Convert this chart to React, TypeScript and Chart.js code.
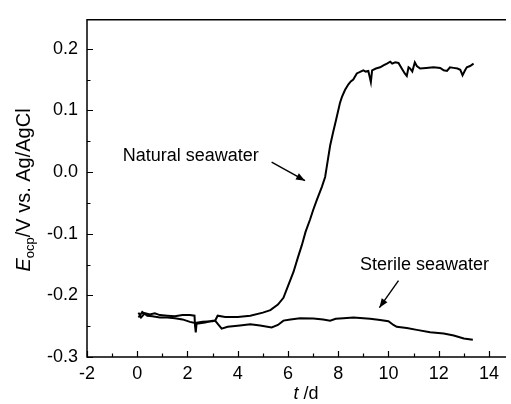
import React, { useEffect, useRef } from "react";
import { Chart, registerables } from "chart.js";

Chart.register(...registerables);

// ---- data ----
const naturalT = [
  0.05, 0.15, 0.3, 0.5, 0.7, 0.9, 1.2, 1.5, 1.8, 2.1, 2.28, 2.3, 2.33, 2.36, 2.7, 3.0, 3.1, 3.2, 3.5, 4.0,
  4.5, 5.0, 5.3, 5.6, 5.82, 6.0, 6.22, 6.4, 6.55, 6.7, 6.88, 7.0, 7.15, 7.35, 7.48, 7.55, 7.68, 7.8, 7.9, 8.07,
  8.15, 8.27, 8.4, 8.5, 8.6, 8.74, 8.85, 9.0, 9.1, 9.2, 9.25, 9.3, 9.35, 9.5, 9.67, 9.8, 9.94, 10.07, 10.15, 10.27,
  10.4, 10.53, 10.65, 10.73, 10.8, 10.86, 10.95, 11.05, 11.13, 11.26, 11.5, 11.8, 12.06, 12.2, 12.33, 12.45, 12.59,
  12.75, 12.86, 12.95, 13.05, 13.12, 13.25, 13.39,
];
const naturalE = [
  -0.228, -0.236, -0.229, -0.231, -0.229, -0.232, -0.233, -0.234, -0.232, -0.232, -0.233, -0.249, -0.26, -0.246,
  -0.244, -0.241, -0.241, -0.233, -0.235, -0.235, -0.233, -0.228, -0.224, -0.215, -0.204, -0.185, -0.162, -0.138,
  -0.119, -0.097, -0.077, -0.062, -0.045, -0.024, -0.008, 0.01, 0.043, 0.065, 0.082, 0.112, 0.122, 0.133, 0.142,
  0.147, 0.15, 0.16, 0.162, 0.165, 0.163, 0.164, 0.155, 0.146, 0.165, 0.168, 0.17, 0.173, 0.176, 0.179, 0.176,
  0.178, 0.177, 0.168, 0.16, 0.156, 0.17, 0.168, 0.163, 0.178, 0.172, 0.168, 0.169, 0.17, 0.169, 0.165, 0.164,
  0.17, 0.169, 0.168, 0.166, 0.157, 0.165, 0.17, 0.172, 0.176,
];
const sterileT = [
  0.05, 0.2, 0.4, 0.6, 0.9, 1.2, 1.5, 1.8, 2.1, 2.3, 2.6, 3.0, 3.1, 3.36, 3.6, 4.09, 4.5, 4.89, 5.35, 5.6, 5.82,
  6.1, 6.48, 7.01, 7.4, 7.68, 7.9, 8.21, 8.61, 9.0, 9.27, 9.67, 10.0, 10.2, 10.33, 10.73, 11.13, 11.66, 12.2, 12.6,
  13.0, 13.36,
];
const sterileE = [
  -0.236, -0.227, -0.233, -0.234, -0.236, -0.236, -0.237, -0.239, -0.243, -0.245, -0.243, -0.242, -0.241, -0.254,
  -0.251, -0.249, -0.247, -0.249, -0.252, -0.248, -0.241, -0.239, -0.237, -0.2375, -0.239, -0.241, -0.238, -0.237,
  -0.236, -0.237, -0.238, -0.24, -0.242, -0.248, -0.251, -0.253, -0.256, -0.26, -0.262, -0.265, -0.27, -0.272,
];
const xTickValues = [-2, 0, 2, 4, 6, 8, 10, 12, 14];
const yTickValues = [-0.3, -0.2, -0.1, 0.0, 0.1, 0.2];
const xMinorStep = 1;
const yMinorStep = 0.05;
const seriesNames = ["Natural seawater", "Sterile seawater"];

const FONT = '"Liberation Sans", Arial, sans-serif';

function arrow(ctx: CanvasRenderingContext2D, x1: number, y1: number, x2: number, y2: number) {
  ctx.beginPath();
  ctx.moveTo(x1, y1);
  ctx.lineTo(x2, y2);
  ctx.stroke();
  const ang = Math.atan2(y2 - y1, x2 - x1);
  const L = 9, W = 3.5;
  ctx.beginPath();
  ctx.moveTo(x2, y2);
  ctx.lineTo(x2 - L * Math.cos(ang) + W * Math.sin(ang), y2 - L * Math.sin(ang) - W * Math.cos(ang));
  ctx.lineTo(x2 - L * Math.cos(ang) - W * Math.sin(ang), y2 - L * Math.sin(ang) + W * Math.cos(ang));
  ctx.closePath();
  ctx.fill();
}

const decorations = {
  id: "decorations",
  afterDraw(chart: any) {
    const { ctx, chartArea: a, scales } = chart;
    const x = scales.x, y = scales.y;
    ctx.save();
    ctx.strokeStyle = "#000";
    ctx.fillStyle = "#000";
    ctx.lineWidth = 1.5;
    // frame: left, bottom, top
    ctx.beginPath();
    ctx.moveTo(a.right, a.top);
    ctx.lineTo(a.left, a.top);
    ctx.lineTo(a.left, a.bottom);
    ctx.lineTo(a.right, a.bottom);
    ctx.stroke();
    // inward ticks
    ctx.lineWidth = 1.2;
    ctx.beginPath();
    for (let k = 0; ; k++) {
      const v = x.min + k * xMinorStep;
      if (v > x.max + 1e-9) break;
      const px = Math.round(x.getPixelForValue(v)) + 0.5;
      const major = xTickValues.some((t) => Math.abs(t - v) < 1e-9);
      ctx.moveTo(px, a.bottom);
      ctx.lineTo(px, a.bottom - (major ? 6 : 3.5));
    }
    for (let k = 0; ; k++) {
      const v = yTickValues[0] + k * yMinorStep;
      if (v > y.max + 1e-9) break;
      const py = Math.round(y.getPixelForValue(v)) + 0.5;
      const major = yTickValues.some((t) => Math.abs(t - v) < 1e-9);
      ctx.moveTo(a.left, py);
      ctx.lineTo(a.left + (major ? 6 : 3.5), py);
    }
    ctx.stroke();

    // annotations
    ctx.font = `18px ${FONT}`;
    ctx.textBaseline = "alphabetic";
    ctx.textAlign = "left";
    ctx.fillText(seriesNames[0], x.getPixelForValue(-0.58), y.getPixelForValue(0.0187));
    ctx.fillText(seriesNames[1], x.getPixelForValue(8.87), y.getPixelForValue(-0.159));
    ctx.lineWidth = 1.4;
    arrow(ctx, x.getPixelForValue(5.35), y.getPixelForValue(0.016), x.getPixelForValue(6.68), y.getPixelForValue(-0.014));
    arrow(ctx, x.getPixelForValue(10.4), y.getPixelForValue(-0.176), x.getPixelForValue(9.64), y.getPixelForValue(-0.22));

    // x title: "t /d"
    const xt1 = "t", xt2 = " /d";
    ctx.font = `italic 18px ${FONT}`;
    const w1 = ctx.measureText(xt1).width;
    ctx.font = `18px ${FONT}`;
    const w2 = ctx.measureText(xt2).width;
    const cx = 306;
    const sx = cx - (w1 + w2) / 2;
    ctx.font = `italic 18px ${FONT}`;
    ctx.fillText(xt1, sx, 399);
    ctx.font = `18px ${FONT}`;
    ctx.fillText(xt2, sx + w1, 399);

    // y title: E_ocp/V vs. Ag/AgCl
    const p1 = "E", p2 = "ocp", p3 = "/V vs. Ag/AgCl";
    ctx.font = `italic 20px ${FONT}`;
    const a1 = ctx.measureText(p1).width;
    ctx.font = `13px ${FONT}`;
    const a2 = ctx.measureText(p2).width;
    ctx.font = `20px ${FONT}`;
    const a3 = ctx.measureText(p3).width;
    const total = a1 + a2 + a3;
    ctx.translate(30, 190);
    ctx.rotate(-Math.PI / 2);
    const s = -total / 2;
    ctx.font = `italic 20px ${FONT}`;
    ctx.fillText(p1, s, 0);
    ctx.font = `13px ${FONT}`;
    ctx.fillText(p2, s + a1, 4);
    ctx.font = `20px ${FONT}`;
    ctx.fillText(p3, s + a1 + a2, 0);
    ctx.restore();
  },
};

export default function App() {
  const ref = useRef<HTMLCanvasElement | null>(null);
  useEffect(() => {
    if (!ref.current) return;
    const natural = naturalT.map((t, i) => ({ x: t, y: naturalE[i] }));
    const sterile = sterileT.map((t, i) => ({ x: t, y: sterileE[i] }));
    const chart = new Chart(ref.current, {
      type: "line",
      data: {
        datasets: [
          { label: seriesNames[0], data: natural, borderColor: "#000", borderWidth: 2, pointRadius: 0, tension: 0, fill: false },
          { label: seriesNames[1], data: sterile, borderColor: "#000", borderWidth: 2, pointRadius: 0, tension: 0, fill: false },
        ],
      },
      options: {
        animation: false,
        responsive: false,
        devicePixelRatio: 1,
        layout: { padding: { top: 13, right: 5, left: 0, bottom: 0 } },
        plugins: { legend: { display: false }, tooltip: { enabled: false } },
        scales: {
          x: {
            type: "linear",
            min: -2,
            max: 14.68,
            grid: { display: false, drawTicks: false },
            border: { display: false },
            ticks: { color: "#000", font: { family: FONT, size: 18 }, padding: 6, autoSkip: false, maxRotation: 0, callback: (v: any) => String(v) },
            afterBuildTicks: (s: any) => { s.ticks = xTickValues.map((v) => ({ value: v })); },
            afterFit: (s: any) => { s.height = 47; },
          },
          y: {
            type: "linear",
            min: -0.3,
            max: 0.247,
            grid: { display: false, drawTicks: false },
            border: { display: false },
            ticks: { color: "#000", font: { family: FONT, size: 18 }, padding: 9, autoSkip: false, callback: (v: any) => Number(v).toFixed(1) },
            afterBuildTicks: (s: any) => { s.ticks = yTickValues.map((v) => ({ value: v })); },
            afterFit: (s: any) => { s.width = 87; },
          },
        },
      },
      plugins: [decorations],
    });
    return () => chart.destroy();
  }, []);
  return (
    <div style={{ position: "fixed", left: 0, top: 0, width: 511, height: 404, background: "#fff" }}>
      <canvas ref={ref} width={511} height={404} style={{ display: "block" }} />
    </div>
  );
}
